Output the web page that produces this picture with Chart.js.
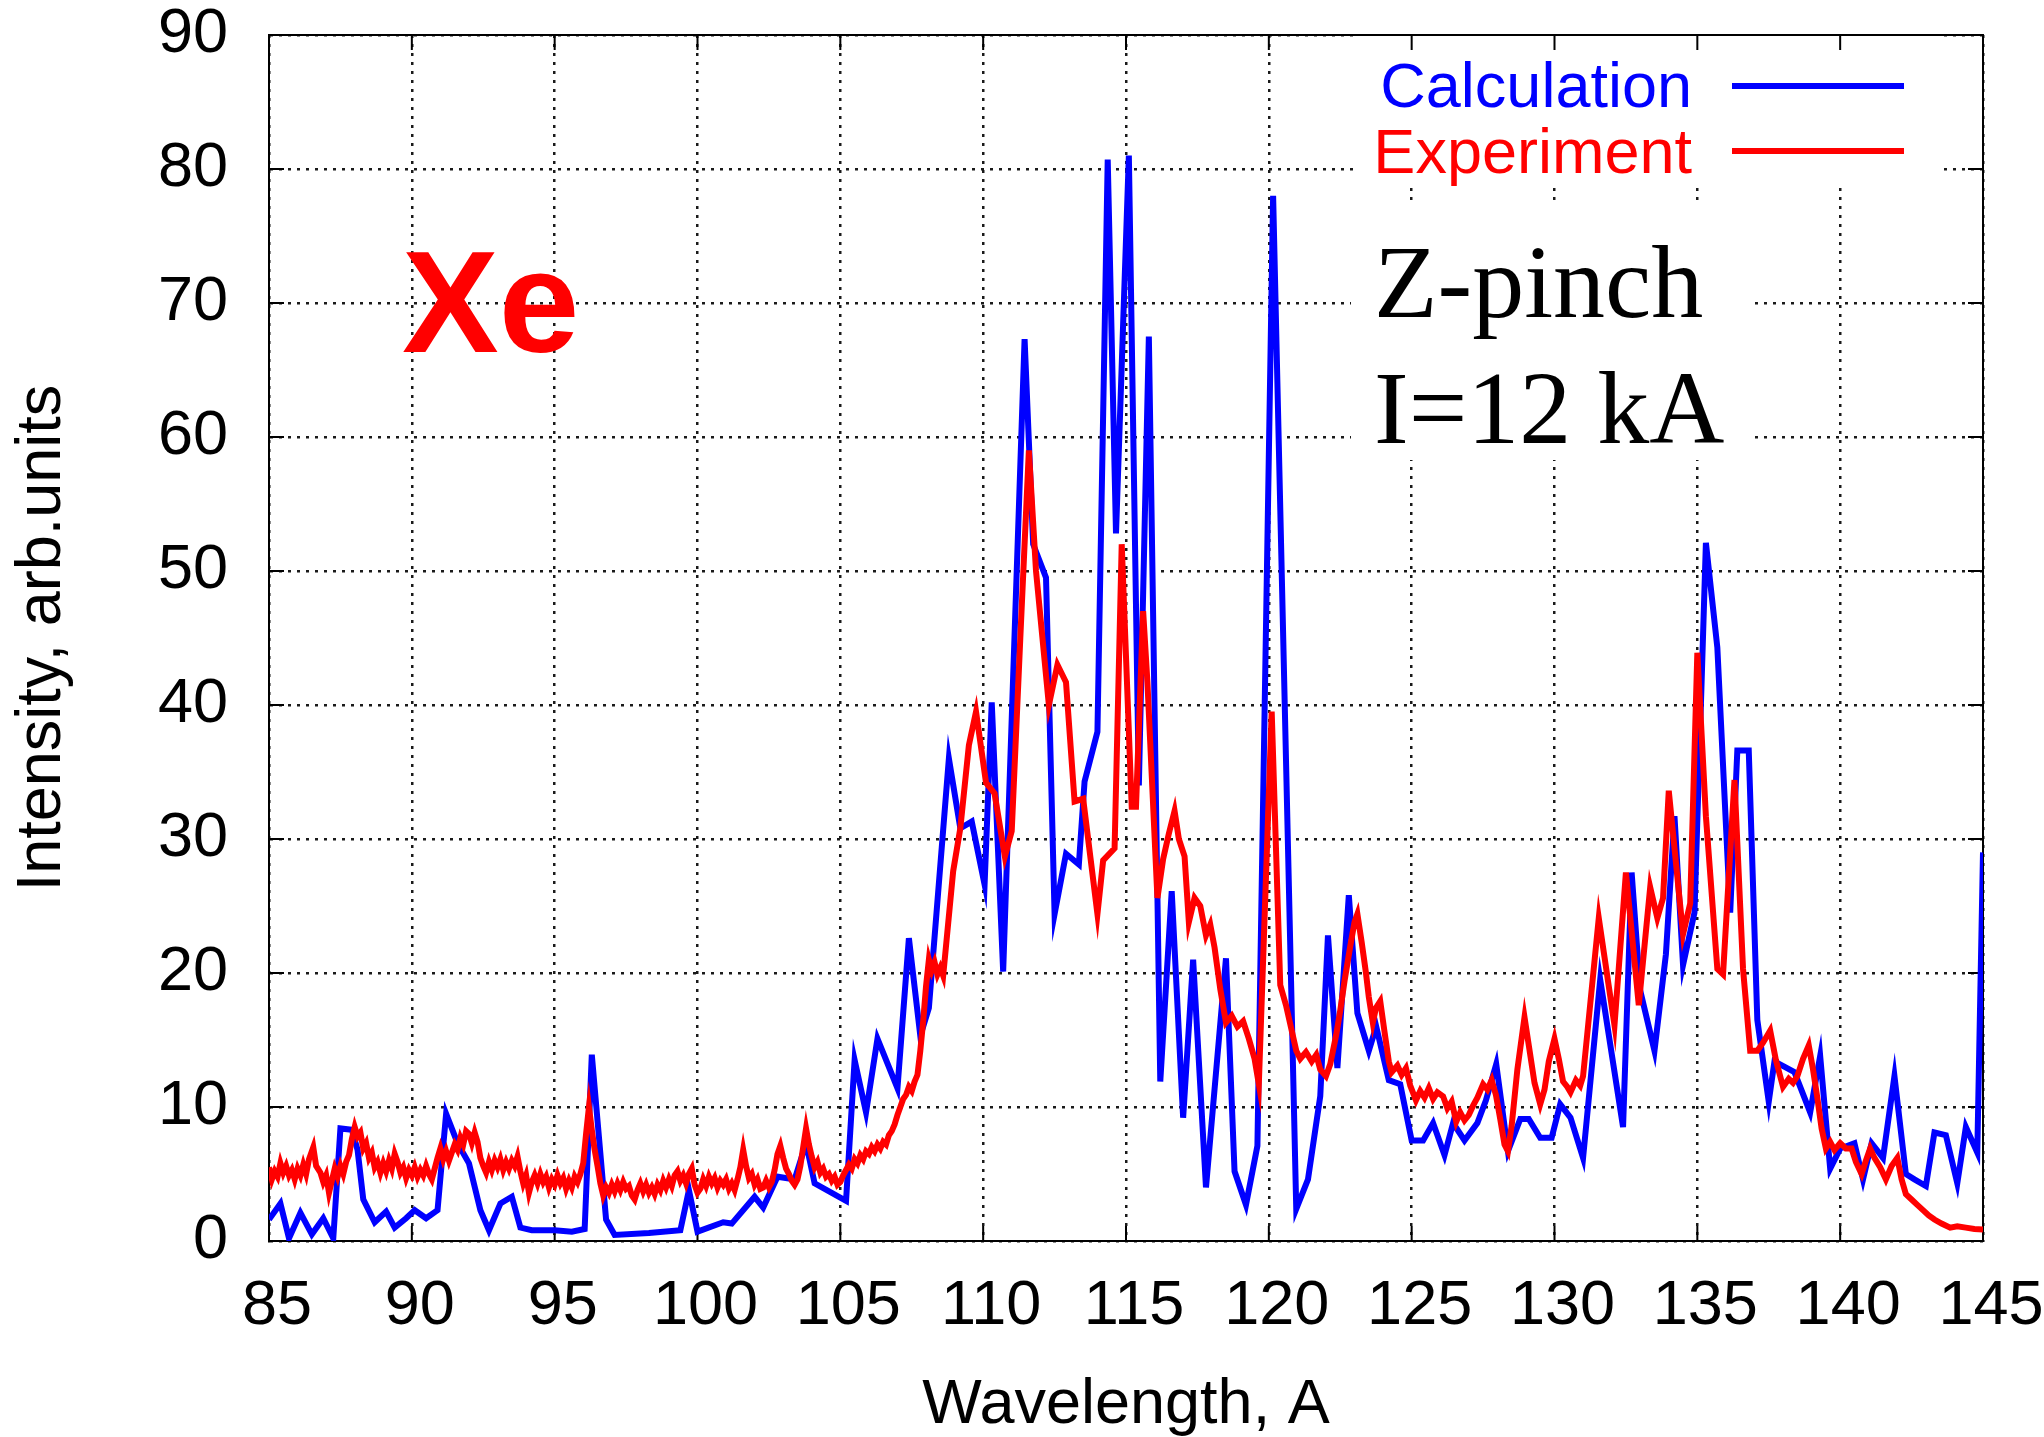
<!DOCTYPE html>
<html>
<head>
<meta charset="utf-8">
<script src="https://cdn.jsdelivr.net/npm/chart.js@4.4.1/dist/chart.umd.min.js"></script>
<style>
  html, body { margin: 0; padding: 0; background: #fff; }
  #wrap { width: 2044px; height: 1437px; position: relative; }
</style>
</head>
<body>
<div id="wrap"><canvas id="spectrumChart"></canvas></div>
<script>
// Calculation (blue) - wavelength, A / intensity
const calcX = [85.0, 85.4, 85.7, 86.1, 86.5, 86.9, 87.25, 87.5, 87.9, 88.1, 88.3, 88.7, 89.1, 89.4, 89.8,
  90.1, 90.5, 90.9, 91.2, 91.6, 92.0, 92.4, 92.7, 93.1, 93.5, 93.8, 94.2, 95.0, 95.6, 96.05, 96.3,
  96.8, 97.1, 98.3, 99.4, 99.7, 100.0, 100.9, 101.2, 102.0, 102.3, 102.8, 103.4, 103.8, 104.1,
  105.2, 105.5, 105.9, 106.3, 107.0, 107.4, 107.8, 108.1, 108.8, 109.2, 109.6, 110.05, 110.3,
  110.7, 111.45, 111.75, 112.2, 112.5, 112.9, 113.35, 113.55, 114.0, 114.36, 114.65, 115.1,
  115.45, 115.8, 116.2, 116.6, 117.0, 117.35, 117.8, 118.5, 118.8, 119.2, 119.6, 120.15, 120.96,
  121.37, 121.8, 122.07, 122.4, 122.8, 123.1, 123.5, 123.76, 124.2, 124.6, 125.0, 125.4, 125.75,
  126.15, 126.45, 126.85, 127.3, 127.6, 127.96, 128.37, 128.8, 129.1, 129.5, 129.9, 130.2, 130.56,
  131.0, 131.6, 132.4, 132.7, 133.0, 133.5, 133.9, 134.2, 134.5, 134.9, 135.3, 135.7, 136.15,
  136.4, 136.8, 137.1, 137.5, 137.7, 138.4, 138.95, 139.3, 139.65, 140.0, 140.5, 140.8, 141.1,
  141.5, 141.9, 142.3, 142.6, 143.0, 143.3, 143.7, 144.1, 144.4, 144.8, 145.0];
const calcY = [1.6, 2.8, 0.2, 2.1, 0.5, 1.7, 0.2, 8.4, 8.3, 6.8, 3.1, 1.4, 2.2, 1.0, 1.7,
  2.3, 1.7, 2.3, 9.5, 7.3, 5.8, 2.3, 0.8, 2.8, 3.3, 1.0, 0.8, 0.8, 0.7, 0.9, 13.9,
  1.6, 0.45, 0.6, 0.8, 3.8, 0.7, 1.4, 1.3, 3.3, 2.5, 4.8, 4.6, 7.3, 4.3,
  3.0, 13.5, 9.6, 15.1, 11.4, 22.6, 15.3, 17.4, 36.0, 30.8, 31.3, 26.6, 40.2,
  20.1, 67.3, 52.0, 49.5, 24.4, 28.9, 28.1, 34.3, 38.0, 80.7, 52.8, 81.0,
  34.0, 67.5, 11.9, 26.1, 9.2, 21.0, 4.0, 21.1, 5.2, 2.7, 7.1, 78.0, 2.4,
  4.6, 10.8, 22.8, 12.9, 25.8, 17.0, 14.2, 16.0, 12.0, 11.7, 7.5, 7.5, 8.8,
  6.4, 8.8, 7.5, 8.8, 10.5, 13.2, 6.7, 9.1, 9.1, 7.7, 7.7, 10.2, 9.2,
  6.2, 19.5, 8.5, 27.5, 18.7, 14.2, 21.4, 31.7, 20.6, 24.5, 52.1, 44.3, 24.5,
  36.6, 36.6, 16.5, 10.4, 13.4, 12.6, 9.6, 13.8, 5.4, 6.9, 7.3, 4.6, 7.3,
  6.2, 12.3, 5.0, 4.6, 4.1, 8.1, 7.9, 4.3, 8.5, 6.6, 29.0];

// Experiment (red)
const expX = [85.0, 85.1, 85.2, 85.3, 85.4, 85.5, 85.6, 85.7, 85.8, 85.9, 86.0, 86.1, 86.2, 86.3,
  86.4, 86.55, 86.65, 86.8, 86.9, 87.0, 87.1, 87.2, 87.3, 87.4, 87.5, 87.6, 87.7, 87.8, 87.9, 88.0,
  88.1, 88.2, 88.3, 88.4, 88.5, 88.6, 88.7, 88.8, 88.9, 89.0, 89.1, 89.2, 89.3, 89.4, 89.5, 89.6,
  89.7, 89.8, 89.9, 90.0, 90.1, 90.2, 90.3, 90.4, 90.5, 90.6, 90.7, 90.8, 90.9, 91.0, 91.1, 91.2,
  91.3, 91.4, 91.5, 91.6, 91.7, 91.8, 91.9, 92.0, 92.1, 92.2, 92.3, 92.4, 92.5, 92.6, 92.7, 92.8,
  92.9, 93.0, 93.1, 93.2, 93.3, 93.4, 93.5, 93.6, 93.7, 93.8, 93.9, 94.0, 94.1, 94.2, 94.3, 94.4,
  94.5, 94.6, 94.7, 94.8, 94.9, 95.0, 95.1, 95.2, 95.3, 95.4, 95.5, 95.6, 95.7, 95.8, 95.9, 96.0,
  96.1, 96.2, 96.3, 96.4, 96.5, 96.6, 96.7, 96.8, 96.9, 97.0, 97.1, 97.2, 97.3, 97.4, 97.5, 97.6,
  97.7, 97.8, 97.9, 98.0, 98.1, 98.2, 98.3, 98.4, 98.5, 98.6, 98.7, 98.8, 98.9, 99.0, 99.1, 99.2,
  99.3, 99.4, 99.5, 99.6, 99.7, 99.8, 99.9, 100.0, 100.1, 100.2, 100.3, 100.4, 100.5, 100.6, 100.7,
  100.8, 100.9, 101.0, 101.1, 101.2, 101.3, 101.4, 101.5, 101.6, 101.7, 101.8, 101.9, 102.0, 102.1,
  102.2, 102.3, 102.4, 102.5, 102.6, 102.7, 102.8, 102.9, 103.0, 103.1, 103.2, 103.3, 103.4, 103.5,
  103.6, 103.7, 103.8, 103.9, 104.0, 104.1, 104.2, 104.3, 104.4, 104.5, 104.6, 104.7, 104.8, 104.9,
  105.0, 105.1, 105.2, 105.3, 105.4, 105.5, 105.6, 105.7, 105.8, 105.9, 106.0, 106.1, 106.2, 106.3,
  106.4, 106.5, 106.6, 106.7, 106.8, 106.9, 107.0, 107.1, 107.2, 107.3, 107.4, 107.5, 107.6, 107.7,
  107.8, 107.9, 108.0, 108.1, 108.2, 108.3, 108.4, 108.5, 108.6, 108.95, 109.2,
  109.5, 109.75, 110.1, 110.4, 110.76, 111.0, 111.3, 111.6, 111.85, 112.3, 112.6, 112.9, 113.2,
  113.5, 114.0, 114.2, 114.6, 114.85, 115.2, 115.35, 115.6, 115.75, 116.1, 116.3, 116.5, 116.7,
  116.85, 117.05, 117.2, 117.4, 117.6, 117.8, 117.95, 118.1, 118.3, 118.5, 118.7, 118.9, 119.1,
  119.3, 119.5, 119.65, 120.1, 120.4, 120.6, 120.96, 121.1, 121.3, 121.5, 121.66, 121.8, 122.0,
  122.15, 122.36, 122.5, 122.65, 122.85, 123.0, 123.1, 123.25, 123.4, 123.5, 123.64, 123.75, 123.9,
  124.05, 124.2, 124.3, 124.5, 124.65, 124.8, 124.95, 125.15, 125.3, 125.45, 125.6, 125.75, 125.9,
  126.1, 126.25, 126.4, 126.56, 126.7, 126.85, 127.0, 127.15, 127.3, 127.5, 127.65, 127.8, 127.95,
  128.1, 128.25, 128.37, 128.5, 128.7, 128.95, 129.1, 129.3, 129.5, 129.65, 129.8, 130.0, 130.15,
  130.3, 130.45, 130.56, 130.75, 130.9, 131.0, 131.55, 132.1, 132.5, 132.95,
  133.35, 133.6, 133.8, 134.0, 134.5, 134.75, 135.0, 135.3, 135.7, 135.9, 136.3, 136.6, 136.85,
  137.1, 137.3, 137.55, 137.75, 138.0, 138.2, 138.35, 138.5, 138.7, 138.9, 139.05, 139.2, 139.35,
  139.5, 139.65, 139.8, 140.0, 140.2, 140.4, 140.55, 140.75, 140.9, 141.05, 141.2, 141.4, 141.6,
  141.8, 142.0, 142.15, 142.3, 142.5, 142.7, 142.9, 143.1, 143.3, 143.55, 143.85, 144.1, 144.4,
  144.7, 145.0];
const expY = [5.5, 4.6, 5.2, 4.8, 5.8, 5.1, 5.6, 4.9, 5.3, 4.6, 5.4, 4.9, 5.7, 5.0,
  6.1, 7.0, 5.6, 5.1, 4.4, 4.9, 3.6, 4.5, 5.4, 4.8, 5.6, 5.0, 5.9, 6.4, 7.6, 8.5,
  7.8, 8.1, 6.9, 7.3, 6.2, 6.6, 5.5, 5.9, 5.1, 5.8, 5.2, 6.0, 5.4, 6.5, 5.9, 5.1,
  5.5, 4.7, 5.3, 4.9, 5.5, 4.8, 5.3, 4.9, 5.6, 5.0, 4.6, 5.4, 6.2, 6.9, 6.1, 6.7,
  6.0, 6.6, 7.2, 6.8, 7.7, 7.2, 8.2, 8.0, 7.3, 8.1, 7.4, 6.2, 5.6, 5.1, 5.9, 5.3,
  6.0, 5.5, 6.1, 5.3, 5.9, 5.4, 6.0, 5.6, 6.3, 5.2, 4.3, 4.9, 3.6, 4.4, 4.9, 4.3,
  5.0, 4.4, 4.8, 4.0, 4.6, 4.2, 4.9, 4.3, 4.7, 3.9, 4.5, 4.0, 4.8, 4.4, 5.0, 5.8,
  8.0, 10.0, 8.3, 6.8, 5.6, 4.3, 3.4, 4.0, 3.6, 4.2, 3.7, 4.3, 3.8, 4.4, 3.9, 4.1,
  3.4, 3.1, 3.8, 4.3, 3.7, 4.2, 3.6, 4.0, 3.5, 4.2, 3.8, 4.5, 4.0, 4.6, 4.1, 4.9,
  5.2, 4.5, 4.9, 4.3, 5.0, 5.4, 4.2, 3.6, 3.9, 4.6, 4.1, 4.8, 4.3, 4.7, 4.0,
  4.5, 4.2, 4.6, 3.9, 4.3, 3.8, 4.6, 5.5, 6.8, 5.6, 4.7, 5.0, 4.2, 4.6,
  3.9, 4.0, 4.5, 4.0, 4.4, 5.3, 6.5, 7.1, 6.2, 5.4, 5.0, 4.5, 4.2, 4.6,
  5.6, 7.0, 8.4, 7.2, 6.3, 5.5, 5.9, 5.1, 5.4, 4.8, 5.0, 4.5, 4.8, 4.2,
  4.4, 4.9, 5.3, 5.7, 5.4, 6.1, 5.8, 6.4, 6.1, 6.7, 6.5, 7.0, 6.7, 7.2,
  6.9, 7.4, 7.2, 7.9, 8.2, 8.7, 9.4, 10.0, 10.6, 10.9, 11.5, 11.2, 11.9, 12.4,
  14.2, 16.4, 19.0, 21.0, 20.2, 20.8, 19.9, 20.4, 19.8, 27.6, 30.8,
  37.0, 39.5, 34.2, 33.4, 28.7, 30.6, 45.0, 59.0, 50.0, 40.0, 43.0, 41.7, 32.8,
  33.0, 24.4, 28.4, 29.3, 52.0, 32.4, 32.4, 47.0, 41.7, 25.6, 28.5, 30.4, 32.1,
  30.0, 28.7, 23.8, 25.6, 25.0, 22.8, 23.6, 21.9, 18.8, 16.3, 16.8, 16.0, 16.4,
  15.1, 13.6, 11.7, 39.5, 19.1, 17.6, 14.2, 13.6, 14.1, 13.4, 13.9, 12.8, 12.3,
  13.2, 15.4, 17.2, 19.4, 22.0, 23.8, 24.4, 22.3, 20.0, 18.2, 16.3, 17.4, 17.9,
  15.6, 13.4, 12.6, 13.1, 12.4, 12.9, 11.6, 10.5, 11.2, 10.7, 11.4, 10.6, 11.1,
  10.8, 9.9, 10.4, 8.9, 9.6, 9.0, 9.4, 10.1, 10.7, 11.7, 11.3, 12.0, 10.9,
  9.1, 7.2, 6.7, 8.6, 12.8, 16.7, 14.6, 11.8, 10.2, 11.3, 13.4, 15.1, 13.6,
  11.9, 11.5, 11.1, 12.0, 11.6, 12.3, 24.1, 16.1, 27.5, 17.6,
  26.4, 24.1, 25.6, 33.6, 22.9, 25.2, 43.9, 31.7, 20.3, 19.9, 34.4, 20.3, 14.2,
  14.2, 14.8, 15.7, 13.5, 11.5, 12.1, 11.8, 12.3, 13.6, 14.6, 12.8, 10.7, 8.4,
  6.9, 7.4, 6.8, 7.3, 6.9, 6.9, 5.9, 5.0, 6.0, 6.9, 6.2, 5.5, 4.6,
  5.6, 6.2, 4.6, 3.5, 3.1, 2.7, 2.3, 1.9, 1.6, 1.3, 1.0, 1.1, 1.0,
  0.9, 0.85];

const xTicks = [85, 90, 95, 100, 105, 110, 115, 120, 125, 130, 135, 140, 145];
const yTicks = [0, 10, 20, 30, 40, 50, 60, 70, 80, 90];

const sans = "'Liberation Sans', Arial, Helvetica, sans-serif";
const serif = "'Liberation Serif', 'Times New Roman', serif";

function toPoints(xs, ys) {
    return xs.map((x, i) => ({ x: x, y: ys[i] }));
}

// frame, inward tics, opaque key boxes and text labels
const decorPlugin = {
    id: 'decor',
    beforeDatasetsDraw(chart) {
        const { ctx, chartArea: a, scales } = chart;
        ctx.save();
        ctx.fillStyle = '#fff';
        ctx.fillRect(1356, a.top + 1, 1942 - 1356, 183 - a.top);
        ctx.fillRect(1351, 205, 1753 - 1351, 460 - 205);
        ctx.strokeStyle = '#000';
        ctx.lineWidth = 2;
        ctx.beginPath();
        xTicks.forEach(v => {
            const px = scales.x.getPixelForValue(v);
            ctx.moveTo(px, a.bottom); ctx.lineTo(px, a.bottom - 15);
            ctx.moveTo(px, a.top); ctx.lineTo(px, a.top + 15);
        });
        yTicks.forEach(v => {
            const py = scales.y.getPixelForValue(v);
            ctx.moveTo(a.left, py); ctx.lineTo(a.left + 15, py);
            ctx.moveTo(a.right, py); ctx.lineTo(a.right - 15, py);
        });
        ctx.stroke();
        ctx.strokeRect(a.left, a.top, a.right - a.left, a.bottom - a.top);
        ctx.restore();
    },
    afterDatasetsDraw(chart) {
        const { ctx } = chart;
        ctx.save();
        // key
        ctx.font = '63px ' + sans;
        ctx.textAlign = 'right';
        ctx.textBaseline = 'alphabetic';
        const keys = [
            { label: 'Calculation', color: '#0000ff', base: 107, line: 86 },
            { label: 'Experiment', color: '#ff0000', base: 173, line: 151 }
        ];
        keys.forEach(k => {
            ctx.fillStyle = k.color;
            ctx.fillText(k.label, 1692, k.base);
            ctx.strokeStyle = k.color;
            ctx.lineWidth = 6;
            ctx.beginPath();
            ctx.moveTo(1732, k.line);
            ctx.lineTo(1904, k.line);
            ctx.stroke();
        });
        // labels
        ctx.textAlign = 'left';
        ctx.fillStyle = '#ff0000';
        ctx.font = 'bold 145px ' + sans;
        ctx.fillText('Xe', 402, 352);
        ctx.fillStyle = '#000';
        ctx.font = '104px ' + serif;
        ctx.fillText('Z-pinch', 1374, 317);
        ctx.fillText('I=12 kA', 1374, 443);
        ctx.restore();
    }
};

const gridDash = [3, 6];

new Chart(document.getElementById('spectrumChart'), {
    type: 'line',
    data: {
        datasets: [
            {
                label: 'Calculation',
                data: toPoints(calcX, calcY),
                borderColor: '#0000ff',
                borderWidth: 6,
                pointRadius: 0,
                tension: 0,
                order: 2
            },
            {
                label: 'Experiment',
                data: toPoints(expX, expY),
                borderColor: '#ff0000',
                borderWidth: 6,
                pointRadius: 0,
                tension: 0,
                order: 1
            }
        ]
    },
    options: {
        responsive: true,
        maintainAspectRatio: false,
        animation: false,
        layout: { padding: { top: 35, right: 61, left: 0, bottom: 0 } },
        plugins: {
            legend: { display: false },
            tooltip: { enabled: false }
        },
        scales: {
            x: {
                type: 'linear',
                min: 85,
                max: 145,
                afterBuildTicks: scale => { scale.ticks = xTicks.map(v => ({ value: v })); },
                afterFit: scale => {
                    scale.height = 196;
                    scale.paddingLeft = 0;
                    scale.paddingRight = 0;
                },
                ticks: {
                    color: '#000',
                    font: { family: sans, size: 63 },
                    padding: 28,
                    labelOffset: 8,
                    maxRotation: 0,
                    autoSkip: false
                },
                grid: { color: '#1a1a1a', lineWidth: 2.5, drawTicks: false },
                border: { display: true, color: '#000', width: 2, dash: gridDash },
                title: {
                    display: true,
                    text: 'Wavelength, A',
                    color: '#000',
                    font: { family: sans, size: 63, lineHeight: 1.0 },
                    padding: { top: 0, bottom: 0 }
                }
            },
            y: {
                type: 'linear',
                min: 0,
                max: 90,
                afterBuildTicks: scale => { scale.ticks = yTicks.map(v => ({ value: v })); },
                afterFit: scale => {
                    scale.width = 269;
                    scale.paddingTop = 0;
                    scale.paddingBottom = 0;
                },
                ticks: {
                    color: '#000',
                    font: { family: sans, size: 63 },
                    padding: 41
                },
                grid: { color: '#1a1a1a', lineWidth: 2.5, drawTicks: false },
                border: { display: true, color: '#000', width: 2, dash: gridDash },
                title: {
                    display: true,
                    text: 'Intensity, arb.units',
                    color: '#000',
                    font: { family: sans, size: 63 },
                    padding: { top: 5, bottom: 0 }
                }
            }
        }
    },
    plugins: [decorPlugin]
});
</script>
</body>
</html>
